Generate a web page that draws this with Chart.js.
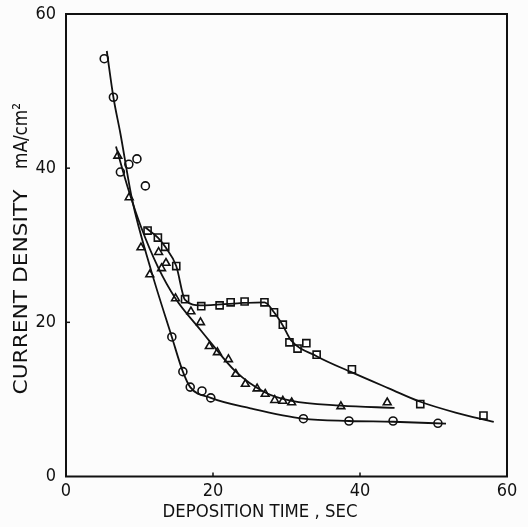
<!DOCTYPE html>
<html>
<head>
<meta charset="utf-8">
<script src="https://cdn.jsdelivr.net/npm/chart.js@4/dist/chart.umd.min.js"></script>
<style>
  html, body { margin: 0; padding: 0; background: #fcfcfc; }
  canvas { display: block; }
</style>
</head>
<body>
<canvas id="c" width="528" height="527"></canvas>
<script>
// Measured points: deposition time (s) vs current density (mA/cm2)
const circleX = [5.2, 6.45, 7.4, 8.55, 9.65, 10.8, 14.4, 15.9, 16.9, 18.5, 19.7, 32.3, 38.5, 44.5, 50.6];
const circleY = [54.2, 49.2, 39.5, 40.5, 41.2, 37.7, 18.1, 13.6, 11.6, 11.1, 10.2, 7.5, 7.2, 7.2, 6.9];

const triangleX = [7.05, 8.6, 10.2, 11.4, 12.6, 13.6, 13.0, 14.9, 17.0, 18.3, 19.5, 20.6, 22.1, 23.1, 24.4, 26.0, 27.1, 28.4, 29.5, 30.7, 37.4, 43.7];
const triangleY = [41.6, 36.2, 29.7, 26.2, 29.1, 27.7, 27.0, 23.1, 21.4, 20.0, 16.9, 16.1, 15.2, 13.3, 12.0, 11.4, 10.7, 9.9, 9.8, 9.6, 9.1, 9.6];

const squareX = [11.1, 12.5, 13.5, 15.0, 16.2, 18.4, 20.9, 22.4, 24.3, 27.0, 28.3, 29.5, 30.4, 31.5, 32.7, 34.1, 38.9, 48.2, 56.8];
const squareY = [31.9, 31.0, 29.8, 27.3, 23.0, 22.1, 22.2, 22.6, 22.7, 22.6, 21.3, 19.7, 17.4, 16.6, 17.3, 15.8, 13.9, 9.4, 7.9];

// Hand-drawn fit curves through each set
const circleFitX = [5.55, 6.45, 7.4, 9.0, 11.5, 14.4, 15.9, 16.9, 19.7, 25.1, 32.3, 38.5, 44.5, 51.7];
const circleFitY = [55.2, 49.2, 44.5, 35.9, 27.0, 18.1, 13.6, 11.6, 10.2, 8.85, 7.5, 7.2, 7.1, 6.85];

const triangleFitX = [6.8, 8.5, 10.2, 12.5, 14.9, 18.3, 19.5, 23.1, 27.1, 30.7, 37.4, 44.7];
const triangleFitY = [42.8, 37.2, 32.4, 27.2, 23.1, 19.0, 17.6, 13.6, 10.9, 9.8, 9.2, 8.9];

const squareFitX = [10.8, 12.5, 13.5, 15.0, 16.2, 18.3, 23.7, 27.0, 28.3, 29.5, 30.6, 34.1, 38.9, 44.0, 48.2, 53.0, 58.2];
const squareFitY = [32.3, 31.0, 29.8, 27.3, 22.9, 22.2, 22.5, 22.6, 21.3, 19.6, 17.7, 15.6, 13.5, 11.4, 9.7, 8.3, 7.1];

const xTicks = [0, 20, 40, 60];
const yTicks = [0, 20, 40, 60];

const FONT = "'DejaVu Sans Condensed', 'DejaVu Sans', sans-serif";
const TITLE_FONT = "'DejaVu Sans Condensed', 'DejaVu Sans', sans-serif";
const INK = '#111';

function pts(xs, ys) { return xs.map((x, i) => ({ x: x, y: ys[i] })); }

function markerSet(xs, ys, style, radius) {
  return {
    data: pts(xs, ys), showLine: false, pointStyle: style, pointRadius: radius,
    pointBackgroundColor: '#fff', pointBorderColor: INK, pointBorderWidth: 1.6
  };
}
function curveSet(xs, ys) {
  return {
    data: pts(xs, ys), showLine: true, pointRadius: 0, borderColor: INK,
    borderWidth: 1.8, cubicInterpolationMode: 'monotone', fill: false
  };
}

// Writes text centred at (0,0) of the current transform, stretched to a given length
function fitText(ctx, text, width) {
  const w = ctx.measureText(text).width;
  ctx.save();
  ctx.scale(width / w, 1);
  ctx.fillText(text, 0, 0);
  ctx.restore();
}

// Frame, inward tick marks and axis titles
const framePlugin = {
  id: 'frame',
  afterDraw(chart) {
    const { ctx, chartArea: a, scales } = chart;
    ctx.save();
    ctx.strokeStyle = INK;
    ctx.lineWidth = 2;
    ctx.strokeRect(a.left, a.top, a.right - a.left, a.bottom - a.top);
    ctx.lineWidth = 1.5;
    xTicks.slice(1, -1).forEach(v => {
      const px = scales.x.getPixelForValue(v);
      ctx.beginPath(); ctx.moveTo(px, a.bottom); ctx.lineTo(px, a.bottom - 4); ctx.stroke();
    });
    yTicks.slice(1, -1).forEach(v => {
      const py = scales.y.getPixelForValue(v);
      ctx.beginPath(); ctx.moveTo(a.left, py); ctx.lineTo(a.left + 4, py); ctx.stroke();
    });
    ctx.fillStyle = INK;
    ctx.textAlign = 'center';
    ctx.textBaseline = 'middle';

    ctx.font = '18px ' + FONT;
    ctx.save();
    ctx.translate(260, 512);
    fitText(ctx, 'DEPOSITION TIME , SEC', 195);
    ctx.restore();

    ctx.font = '20px ' + TITLE_FONT;
    ctx.save();
    ctx.translate(22, 292);
    ctx.rotate(-Math.PI / 2);
    fitText(ctx, 'CURRENT DENSITY', 205);
    ctx.restore();

    ctx.save();
    ctx.translate(22, 136);
    ctx.rotate(-Math.PI / 2);
    fitText(ctx, 'mA/cm\u00B2', 66);
    ctx.restore();

    ctx.restore();
  }
};

new Chart(document.getElementById('c'), {
  type: 'scatter',
  data: {
    datasets: [
      curveSet(circleFitX, circleFitY),
      curveSet(triangleFitX, triangleFitY),
      curveSet(squareFitX, squareFitY),
      markerSet(circleX, circleY, 'circle', 4),
      markerSet(triangleX, triangleY, 'triangle', 4.5),
      markerSet(squareX, squareY, 'rect', 5)
    ]
  },
  options: {
    responsive: false,
    animation: false,
    layout: { padding: { left: 0, right: 21, top: 14, bottom: 0 } },
    plugins: { legend: { display: false }, tooltip: { enabled: false } },
    scales: {
      x: {
        type: 'linear', min: 0, max: 60,
        afterBuildTicks: s => { s.ticks = xTicks.map(v => ({ value: v })); },
        afterFit: s => { s.height = 50.5; },
        grid: { display: false },
        border: { display: false },
        ticks: { color: INK, font: { family: FONT, size: 18 }, padding: -4, maxRotation: 0 }
      },
      y: {
        type: 'linear', min: 0, max: 60,
        afterBuildTicks: s => { s.ticks = yTicks.map(v => ({ value: v })); },
        afterFit: s => { s.width = 66; },
        grid: { display: false },
        border: { display: false },
        ticks: { color: INK, font: { family: FONT, size: 18 }, padding: 2 }
      }
    }
  },
  plugins: [framePlugin]
});
</script>
</body>
</html>
